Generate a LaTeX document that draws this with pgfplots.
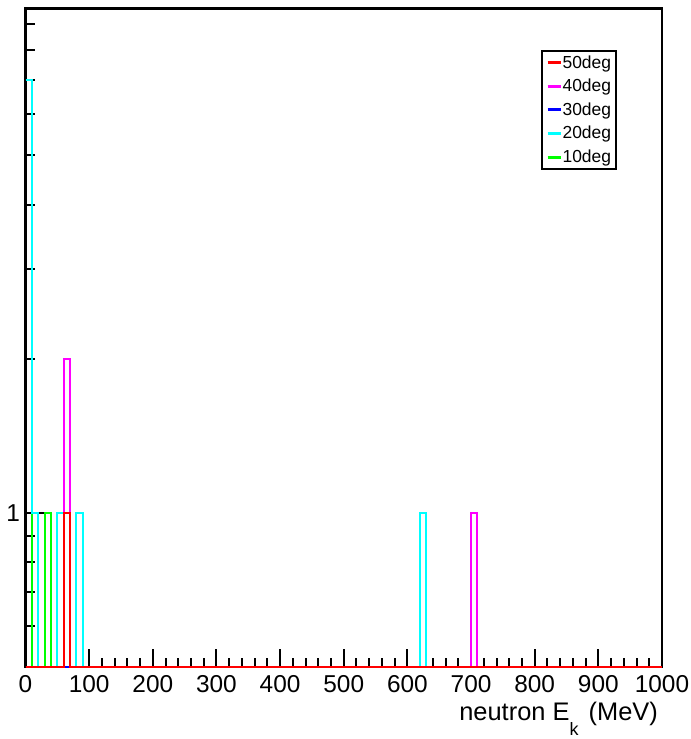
\documentclass[border=0pt]{standalone}
\usepackage{fontspec}
\setmainfont{Liberation Sans}
\usepackage{pgfplots}
\pgfplotsset{compat=1.18}
\definecolor{hred}{RGB}{255,0,0}
\definecolor{hmag}{RGB}{255,0,255}
\definecolor{hblue}{RGB}{0,0,255}
\definecolor{hcyan}{RGB}{0,255,255}
\definecolor{hgreen}{RGB}{0,255,0}
\begin{document}
\begin{tikzpicture}
\begin{axis}[
  name=ax,
  scale only axis, width=636.5bp, height=658.5bp,
  xmin=0, xmax=1000, ymode=log, ymin=0.5, ymax=9.66,
  axis line style={line width=2.5bp},
  xtick={0,100,...,1000}, minor x tick num=4,
  ytick={1}, yticklabels={1},
  minor ytick={0.6,0.7,0.8,0.9,2,3,4,5,6,7,8,9},
  tick align=inside, xtick pos=left, ytick pos=left,
  major tick length=18bp, minor tick length=9bp,
  every tick/.style={black, line width=2bp},
  tick label style={font=\fontsize{24.5}{24.5}\selectfont},
  /pgf/number format/assume math mode=true,
  /pgf/number format/1000 sep={},
  xticklabel style={yshift=-5bp},
  yticklabel style={xshift=-2bp},
  clip=false,
  xlabel={neutron E\raisebox{-0.62em}{\fontsize{18}{18}\selectfont k}\hspace{0.4em}(MeV)},
  xlabel style={at={(axis description cs:1,0)}, anchor=base east, yshift=-53bp, xshift=-4bp, font=\fontsize{25.5}{25.5}\selectfont, inner sep=0pt},
  legend style={at={(0.81,0.937)}, anchor=north west, draw=black, line width=2bp,
    font=\fontsize{17.5}{17.5}\selectfont, inner xsep=4bp, inner ysep=4bp, row sep=8.5bp,
    nodes={inner sep=0.5bp}, cells={anchor=west},
    /tikz/every even column/.append style={column sep=0bp}},
  legend image code/.code={\draw[line width=3bp] (0bp,0bp) -- (13bp,0bp);},
  reverse legend,
]
% empty bins are drawn at the axis floor (0.5), as ROOT does on a log axis
\addplot[const plot mark left, no marks, line width=2bp, color=hgreen]
  coordinates {(0,0.5)(10,1)(20,0.5)(30,1)(40,0.5)(1000,0.5)};
\addlegendentry{10deg}
\addplot[const plot mark left, no marks, line width=2bp, color=hcyan]
  coordinates {(0,7)(10,1)(20,0.5)(50,1)(60,0.5)(80,1)(90,0.5)(620,1)(630,0.5)(1000,0.5)};
\addlegendentry{20deg}
\addplot[const plot mark left, no marks, line width=2bp, color=hblue]
  coordinates {(0,0.5)(1000,0.5)};
\addlegendentry{30deg}
\addplot[const plot mark left, no marks, line width=2bp, color=hmag]
  coordinates {(0,0.5)(60,2)(70,0.5)(700,1)(710,0.5)(1000,0.5)};
\addlegendentry{40deg}
\addplot[const plot mark left, no marks, line width=2bp, color=hred]
  coordinates {(0,0.5)(60,1)(70,0.5)(1000,0.5)};
\addlegendentry{50deg}
\end{axis}
\pgfresetboundingbox
\path ([shift={(-25.5bp,-72bp)}]ax.south west) rectangle ([shift={(29bp,8.5bp)}]ax.north east);
\end{tikzpicture}
\end{document}
